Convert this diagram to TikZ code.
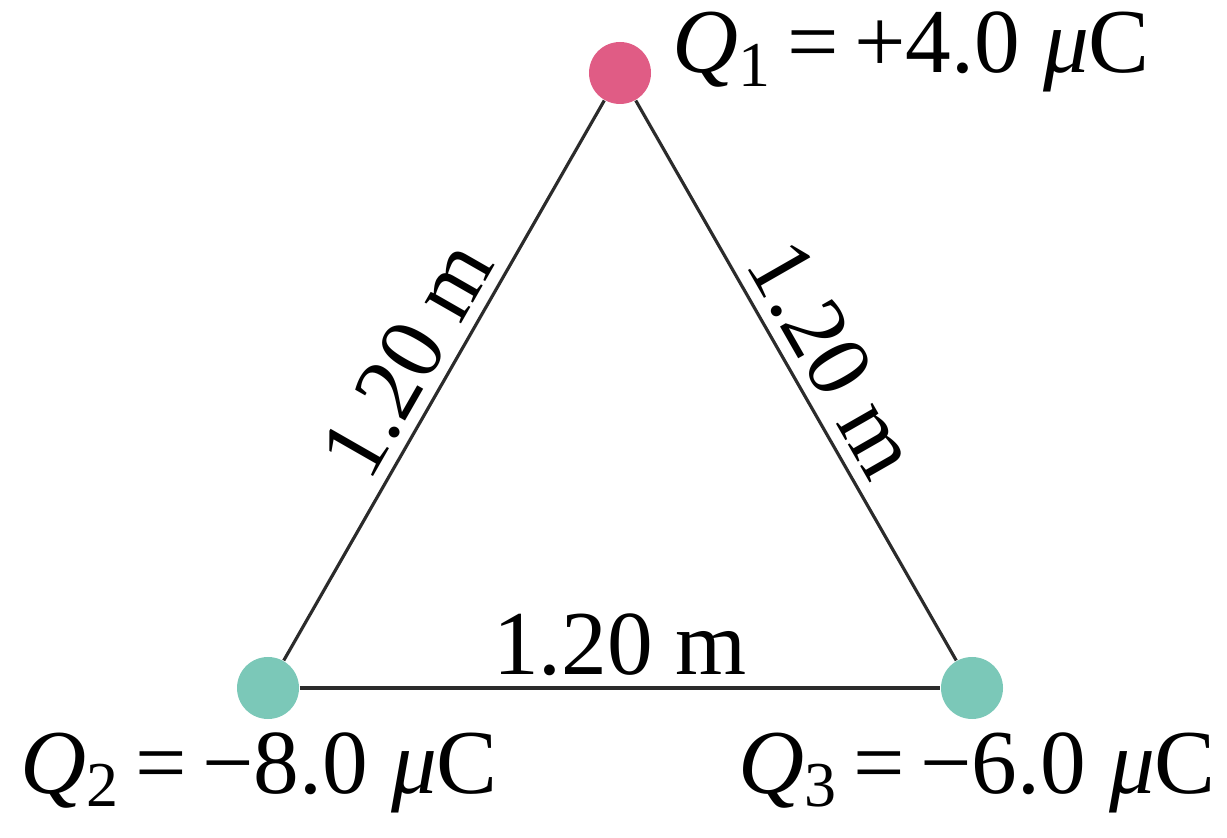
\documentclass[tikz,border=0pt]{standalone}
\usepackage{fontspec}
\setmainfont{Liberation Serif}
\usetikzlibrary{positioning}
\definecolor{cPos}{HTML}{E05C85}
\definecolor{cNeg}{HTML}{7BC8B8}
\definecolor{cInk}{HTML}{2B2B2B}
\tikzset{
  charge/.style={circle,inner sep=0pt,minimum size=6.2mm},
  rod/.style={line width=0.9pt,draw=cInk},
  dist/.style={font=\fontsize{26}{30}\selectfont,inner sep=3pt},
  qlabel/.style={font=\fontsize{26}{30}\selectfont,anchor=base west,inner sep=0pt}
}
\newcommand{\qsym}[1]{\textit{Q}\textsubscript{#1}}
\begin{document}
\begin{tikzpicture}
  \useasboundingbox (0,0) rectangle (12.27,8.37);
  % Charges at the corners.
  \node[charge,fill=cPos] (q1) at (6.20,7.64) {};
  \node[charge,fill=cNeg] (q2) at (2.68,1.49) {};
  \node[charge,fill=cNeg] (q3) at (9.72,1.49) {};

  \draw[rod] (q2) -- node[dist,sloped,above] (d12) {1.20 m} (q1);
  \draw[rod] (q1) -- node[dist,sloped,above] (d13) {1.20 m} (q3);
  \draw[rod] (q2) -- node[dist,above] (d23) {1.20 m} (q3);

  \node[qlabel] (l1) at (6.72,7.64) {\qsym{1}\,=\,+4.0 \textit{μ}C};
  \node[qlabel] (l2) at (0.20,0.44) {\qsym{2}\,=\,−8.0 \textit{μ}C};
  \node[qlabel] (l3) at (7.38,0.44) {\qsym{3}\,=\,−6.0 \textit{μ}C};
\end{tikzpicture}
\end{document}
